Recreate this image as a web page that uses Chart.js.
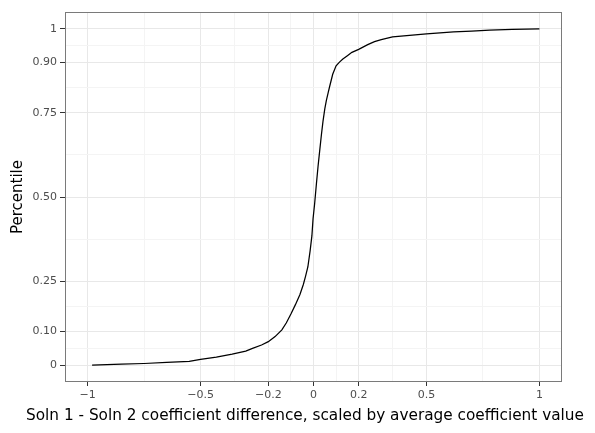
<!DOCTYPE html>
<html>
<head>
<meta charset="utf-8">
<script src="https://cdn.jsdelivr.net/npm/chart.js@4.4.1/dist/chart.umd.min.js"></script>
<style>
  html, body { margin: 0; padding: 0; background: #fff; }
</style>
</head>
<body>
<canvas id="c" width="595" height="433"></canvas>
<script>
'use strict';

// ── data ──────────────────────────────────────────────────────────────────────

const diffX = [
  -0.98, -0.85, -0.75, -0.65, -0.55, -0.50, -0.43, -0.36, -0.30, -0.27,
  -0.23, -0.20, -0.17, -0.14, -0.12, -0.10, -0.08, -0.06, -0.045, -0.035,
  -0.025, -0.015, -0.007, -0.002, 0.005, 0.013, 0.020, 0.027, 0.035, 0.042,
  0.050, 0.057, 0.065, 0.072, 0.085, 0.100, 0.115, 0.130, 0.150, 0.170,
  0.200, 0.240, 0.270, 0.300, 0.350, 0.400, 0.450, 0.500, 0.560, 0.620,
  0.700, 0.780, 0.880, 1.000
];
const pctY = [
  0.000, 0.003, 0.005, 0.008, 0.011, 0.017, 0.024, 0.033, 0.042, 0.050,
  0.060, 0.070, 0.085, 0.105, 0.126, 0.152, 0.180, 0.210, 0.240, 0.265,
  0.292, 0.340, 0.385, 0.435, 0.480, 0.540, 0.590, 0.635, 0.685, 0.725,
  0.762, 0.787, 0.810, 0.830, 0.865, 0.890, 0.901, 0.910, 0.920, 0.930,
  0.939, 0.953, 0.962, 0.968, 0.976, 0.979, 0.982, 0.985, 0.988, 0.991,
  0.993, 0.996, 0.998, 1.000
];

const xMajor = [-1, -0.5, -0.2, 0, 0.2, 0.5, 1];
const xLabels = ['−1', '−0.5', '−0.2', '0', '0.2', '0.5', '1'];
const xMinor = [-0.75, -0.35, -0.1, 0.1, 0.35, 0.75];

const yMajor = [0, 0.10, 0.25, 0.50, 0.75, 0.90, 1];
const yLabels = ['0', '0.10', '0.25', '0.50', '0.75', '0.90', '1'];
const yMinor = [0.05, 0.175, 0.375, 0.625, 0.825, 0.95];

const xTitle = 'Soln 1 - Soln 2 coefficient difference, scaled by average coefficient value';
const yTitle = 'Percentile';

// ── helpers ───────────────────────────────────────────────────────────────────

const FONT = 'DejaVu Sans';

function isMajor(list, v) {
  return list.some(m => Math.abs(m - v) < 1e-9);
}

function labelFor(major, labels, v) {
  const i = major.findIndex(m => Math.abs(m - v) < 1e-9);
  return i >= 0 ? labels[i] : '';
}

function setTicks(major, minor) {
  return scale => {
    scale.ticks = [...major, ...minor].sort((a, b) => a - b).map(v => ({ value: v }));
  };
}

// panel border (theme_bw look) + x title, which sits a bit left of the panel centre
const panelBorder = {
  id: 'panelBorder',
  afterDraw(chart) {
    const { ctx, chartArea: a } = chart;
    ctx.save();
    ctx.strokeStyle = '#7a7a7a';
    ctx.lineWidth = 1;
    ctx.strokeRect(a.left + 0.5, a.top + 0.5, a.right - a.left - 1, a.bottom - a.top - 1);

    ctx.fillStyle = '#000';
    ctx.font = `15.3px "${FONT}"`;
    ctx.textAlign = 'center';
    ctx.textBaseline = 'alphabetic';
    ctx.fillText(xTitle, 305, 420);
    ctx.restore();
  }
};

// ── chart ─────────────────────────────────────────────────────────────────────

new Chart(document.getElementById('c'), {
  type: 'scatter',
  data: {
    datasets: [{
      data: diffX.map((x, i) => ({ x, y: pctY[i] })),
      showLine: true,
      borderColor: '#000',
      borderWidth: 1.25,
      pointRadius: 0,
      tension: 0,
    }]
  },
  options: {
    responsive: false,
    animation: false,
    layout: { padding: { top: 12, right: 33, left: 0, bottom: 0 } },
    plugins: { legend: { display: false }, tooltip: { enabled: false } },
    scales: {
      x: {
        type: 'linear',
        min: -1.1, max: 1.1,
        afterBuildTicks: setTicks(xMajor, xMinor),
        afterFit: s => { s.height = 51; },
        border: { display: false },
        grid: {
          color: c => isMajor(xMajor, c.tick.value) ? '#e8e8e8' : '#f4f4f4',
          tickColor: c => isMajor(xMajor, c.tick.value) ? '#333' : 'rgba(0,0,0,0)',
          tickLength: 4,
          lineWidth: 1,
        },
        ticks: {
          autoSkip: false,
          maxRotation: 0,
          padding: 3,
          color: '#4d4d4d',
          font: { family: FONT, size: 11 },
          callback: v => labelFor(xMajor, xLabels, v),
        },
        title: { display: false },
      },
      y: {
        type: 'linear',
        min: -0.05, max: 1.05,
        afterBuildTicks: setTicks(yMajor, yMinor),
        afterFit: s => { s.width = 65; },
        border: { display: false },
        grid: {
          color: c => isMajor(yMajor, c.tick.value) ? '#e8e8e8' : '#f4f4f4',
          tickColor: c => isMajor(yMajor, c.tick.value) ? '#333' : 'rgba(0,0,0,0)',
          tickLength: 5,
          lineWidth: 1,
        },
        ticks: {
          autoSkip: false,
          padding: 3,
          color: '#4d4d4d',
          font: { family: FONT, size: 11 },
          callback: v => labelFor(yMajor, yLabels, v),
        },
        title: {
          display: true,
          text: yTitle,
          color: '#000',
          font: { family: FONT, size: 15 },
          padding: { top: 9, bottom: 0 },
        },
      },
    },
  },
  plugins: [panelBorder],
});
</script>
</body>
</html>
